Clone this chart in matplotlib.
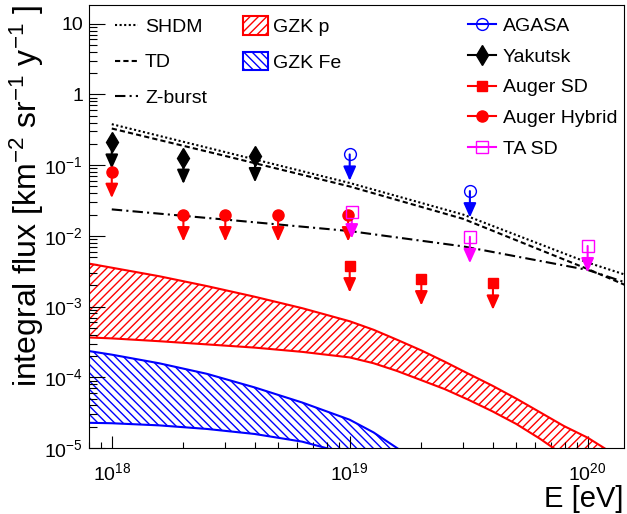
import numpy as np
import matplotlib.pyplot as plt
from matplotlib.lines import Line2D
from matplotlib.patches import Patch
from matplotlib.ticker import FixedLocator, FixedFormatter, LogLocator, NullFormatter

plt.rcParams['font.family'] = ['Liberation Sans', 'DejaVu Sans']
plt.rcParams['mathtext.fontset'] = 'custom'
plt.rcParams['mathtext.rm'] = 'Liberation Sans'
plt.rcParams['mathtext.it'] = 'Liberation Sans:italic'
plt.rcParams['hatch.linewidth'] = 1.0

# model predictions (E in eV, integral flux in km^-2 sr^-1 y^-1)
model_E = [1e18, 3e18, 1e19, 3e19, 1e20, 1.5e20]
shdm = [0.38, 0.153, 0.056, 0.020, 0.0042, 0.0027]
td = [0.33, 0.135, 0.050, 0.0174, 0.0034, 0.0019]
zburst = [0.0237, 0.017, 0.0117, 0.0071, 0.0033, 0.0021]

# GZK bands
gzkp_E_up = [7.08e17, 1e18, 1.58e18, 2.51e18, 3.98e18, 6.31e18, 1e19, 1.26e19, 1.58e19, 2.0e19,
             2.51e19, 3.16e19, 3.98e19, 5.01e19, 6.31e19, 7.94e19, 1e20, 1.26e20, 1.58e20]
gzkp_up = [4.37e-3, 3.55e-3, 2.69e-3, 1.95e-3, 1.38e-3, 9.5e-4, 6.2e-4, 4.7e-4, 3.4e-4, 2.4e-4,
           1.66e-4, 1.12e-4, 7.6e-5, 5.0e-5, 3.2e-5, 2.05e-5, 1.4e-5, 8.6e-6, 5.0e-6]
gzkp_E_lo = [7.08e17, 1e18, 1.58e18, 2.51e18, 3.98e18, 6.31e18, 1e19, 1.26e19, 1.58e19, 2.0e19,
             2.51e19, 3.16e19, 3.98e19, 5.01e19, 6.31e19, 7.94e19, 1e20, 1.26e20]
gzkp_lo = [3.72e-4, 3.55e-4, 3.24e-4, 2.92e-4, 2.63e-4, 2.29e-4, 1.91e-4, 1.58e-4, 1.23e-4, 9.1e-5,
           6.8e-5, 4.8e-5, 3.3e-5, 2.19e-5, 1.35e-5, 7.9e-6, 4.5e-6, 2.4e-6]
gzkfe_E_up = [7.08e17, 1e18, 1.58e18, 2.51e18, 3.98e18, 6.31e18, 1e19, 1.26e19, 1.58e19, 2.0e19, 2.51e19]
gzkfe_up = [2.51e-4, 2.09e-4, 1.58e-4, 1.12e-4, 7.2e-5, 4.4e-5, 2.51e-5, 1.66e-5, 1.0e-5, 6.0e-6, 3.5e-6]
gzkfe_E_lo = [7.08e17, 1e18, 1.58e18, 2.51e18, 3.98e18, 6.31e18, 7.94e18, 1e19, 1.58e19]
gzkfe_lo = [2.29e-5, 2.24e-5, 2.09e-5, 1.86e-5, 1.58e-5, 1.23e-5, 1.0e-5, 8.1e-6, 5.0e-6]

# upper limits
agasa_E = [1e19, 3.2e19]
agasa = [0.142, 0.043]
yakutsk_E = [1e18, 2e18, 4e18]
yakutsk = [0.21, 0.128, 0.135]
augersd_E = [1e19, 2e19, 4e19]
augersd = [0.00374, 0.00245, 0.00213]
hybrid_E = [1e18, 2e18, 3e18, 5e18, 0.985e19]
hybrid = [0.081, 0.0197, 0.0197, 0.0197, 0.0197]
tasd_E = [1.02e19, 3.2e19, 1e20]
tasd = [0.0217, 0.0097, 0.0072]

ytick_vals = [1e-5, 1e-4, 1e-3, 1e-2, 1e-1, 1, 10]
ytick_labels = ['10$^{-5}$', '10$^{-4}$', '10$^{-3}$', '10$^{-2}$', '10$^{-1}$', '1', '10']
xtick_vals = [1e18, 1e19, 1e20]
xtick_labels = ['10$^{18}$', '10$^{19}$', '10$^{20}$']

fig = plt.figure(figsize=(6.27, 5.14), dpi=100)
ax = fig.add_axes([0.1415, 0.1284, 0.8535, 0.8618])
ax.set_xscale('log')
ax.set_yscale('log')
ax.set_xlim(8.0e17, 1.42e20)
ax.set_ylim(1e-5, 18.4)


def band(e_up, f_up, e_lo, f_lo, color, hatch):
    xs = np.concatenate([e_up, e_lo[::-1]])
    ys = np.concatenate([f_up, f_lo[::-1]])
    ax.fill(xs, ys, facecolor='none', edgecolor=color, hatch=hatch, lw=0)
    ax.plot(e_up, f_up, color=color, lw=1.5)
    ax.plot(e_lo, f_lo, color=color, lw=1.5)


band(gzkp_E_up, gzkp_up, gzkp_E_lo, gzkp_lo, 'red', '////')
band(gzkfe_E_up, gzkfe_up, gzkfe_E_lo, gzkfe_lo, 'blue', '\\\\\\\\')

ax.plot(model_E, shdm, color='black', lw=1.5, ls=(0, (1, 1.2)))
ax.plot(model_E, td, color='black', lw=1.5, ls=(0, (2.5, 1.5)))
ax.plot(model_E, zburst, color='black', lw=1.5, ls=(0, (5, 2, 1, 2)))


def limits(xs, ys, color, marker, ms, filled=True):
    for x, y in zip(xs, ys):
        ax.annotate('', xy=(x, y), xytext=(0, -19), textcoords='offset points',
                    arrowprops=dict(arrowstyle='<|-,head_length=0.85,head_width=0.38',
                                    color=color, lw=1.5, shrinkA=0, shrinkB=0))
    ax.plot(xs, ys, ls='none', marker=marker, ms=ms, mec=color,
            mfc=color if filled else 'none', mew=1.0, zorder=5)


limits(yakutsk_E, yakutsk, 'black', 'd', 10)
limits(hybrid_E, hybrid, 'red', 'o', 8)
limits(augersd_E, augersd, 'red', 's', 7.5)
limits(agasa_E, agasa, 'blue', 'o', 8.5, filled=False)
limits(tasd_E, tasd, 'magenta', 's', 8.5, filled=False)

ax.tick_params(which='both', direction='in', top=False, right=False, width=0.8)
ax.tick_params(axis='y', which='major', length=11.5, pad=4, labelsize=14)
ax.tick_params(axis='y', which='minor', length=5.8)
ax.tick_params(axis='x', which='major', length=8.6, pad=10, labelsize=14)
ax.tick_params(axis='x', which='minor', length=4.3)
ax.yaxis.set_major_locator(FixedLocator(ytick_vals))
ax.yaxis.set_major_formatter(FixedFormatter(ytick_labels))
ax.yaxis.set_minor_locator(LogLocator(base=10, subs=np.arange(2, 10), numticks=20))
ax.yaxis.set_minor_formatter(NullFormatter())
ax.xaxis.set_major_locator(FixedLocator(xtick_vals))
ax.xaxis.set_major_formatter(FixedFormatter(xtick_labels))
ax.xaxis.set_minor_locator(LogLocator(base=10, subs=np.arange(2, 10), numticks=20))
ax.xaxis.set_minor_formatter(NullFormatter())
for s in ax.spines.values():
    s.set_linewidth(0.8)

ax.set_xlabel('E [eV]', fontsize=21, loc='right', labelpad=1)
ax.set_ylabel('integral flux [km$^{-2}$ sr$^{-1}$ y$^{-1}$ ]', fontsize=23, loc='top', labelpad=-1)

# legends
h1 = [Line2D([], [], color='black', lw=1.5, ls=(0, (1, 1.2))),
      Line2D([], [], color='black', lw=1.5, ls=(0, (2.5, 1.5))),
      Line2D([], [], color='black', lw=1.5, ls=(0, (5, 2, 1, 2)))]
leg1 = ax.legend(h1, ['SHDM', 'TD', 'Z-burst'], loc='upper left', bbox_to_anchor=(0.049, 0.97),
                 frameon=False, fontsize=14, handlelength=1.2, handletextpad=0.35,
                 labelspacing=0.92, borderpad=0, borderaxespad=0)
ax.add_artist(leg1)

h2 = [Patch(facecolor='none', edgecolor='red', hatch='////', lw=1.5),
      Patch(facecolor='none', edgecolor='blue', hatch='\\\\\\\\', lw=1.5)]
leg2 = ax.legend(h2, ['GZK p', 'GZK Fe'], loc='upper left', bbox_to_anchor=(0.288, 0.975),
                 frameon=False, fontsize=14, handlelength=1.3, handleheight=1.1,
                 handletextpad=0.25, labelspacing=0.8, borderpad=0, borderaxespad=0)
ax.add_artist(leg2)

h3 = [Line2D([], [], color='blue', lw=1.5, marker='o', ms=8.5, mfc='none', mec='blue'),
      Line2D([], [], color='black', lw=1.5, marker='d', ms=10, mfc='black', mec='black'),
      Line2D([], [], color='red', lw=1.5, marker='s', ms=7.5, mfc='red', mec='red'),
      Line2D([], [], color='red', lw=1.5, marker='o', ms=8, mfc='red', mec='red'),
      Line2D([], [], color='magenta', lw=1.5, marker='s', ms=8.5, mfc='none', mec='magenta')]
ax.legend(h3, ['AGASA', 'Yakutsk', 'Auger SD', 'Auger Hybrid', 'TA SD'], loc='upper left',
          bbox_to_anchor=(0.708, 0.972), frameon=False, fontsize=14, handlelength=1.45,
          handletextpad=0.35, labelspacing=0.67, borderpad=0, borderaxespad=0)

fig.savefig('out.png', dpi=100)
